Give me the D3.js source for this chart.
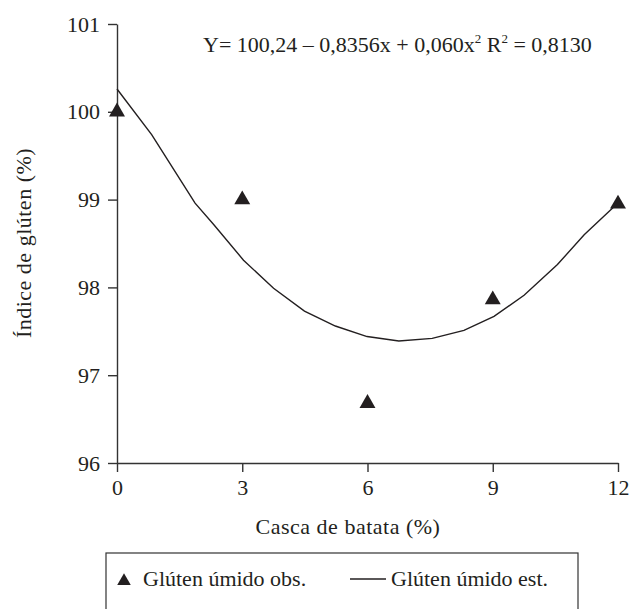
<!DOCTYPE html>
<html>
<head>
<meta charset="utf-8">
<script src="https://cdn.jsdelivr.net/npm/d3@7"></script>
</head>
<body style="margin:0">
<svg width="631" height="609">
  <text id="xtitle" x="348" y="534" font-family="Liberation Serif" font-size="22" fill="#231f20" text-anchor="middle" letter-spacing="0.5">Casca de batata (%)</text>
</svg>
<script>
// observed points
var obsX = [0, 3, 6, 9, 12];
var obsY = [100.0, 99.0, 96.68, 97.86, 98.95];

// estimated curve vertices
var estX = [0, 0.83, 1.87, 2.31, 3.03, 3.75, 4.49, 5.23, 5.99, 6.75, 7.55, 8.31, 9.03, 9.75, 10.55, 11.19, 12];
var estY = [100.26, 99.74, 98.96, 98.72, 98.31, 97.99, 97.73, 97.56, 97.44, 97.39, 97.42, 97.51, 97.67, 97.91, 98.26, 98.60, 98.96];

var xTicks = [0, 3, 6, 9, 12];
var yTicks = [96, 97, 98, 99, 100, 101];

var FONT = "Liberation Serif";
var INK = "#231f20";

var screen = {width: 631, height: 609};
var margins = {left: 117, top: 24};
var graph = {width: 501, height: 439};

var svg = d3.select("svg")
    .attr("width", screen.width)
    .attr("height", screen.height);

var xScale = d3.scaleLinear().domain([0, 12]).range([0, graph.width]);
var yScale = d3.scaleLinear().domain([96, 101]).range([graph.height, 0]);

var target = svg.append("g")
    .attr("transform", "translate(" + margins.left + "," + margins.top + ")");

// axes
var xAxis = d3.axisBottom(xScale).tickValues(xTicks).tickFormat(d3.format("d"))
    .tickSize(9).tickSizeOuter(0).tickPadding(7);
var yAxis = d3.axisLeft(yScale).tickValues(yTicks).tickFormat(d3.format("d"))
    .tickSize(9).tickSizeOuter(0).tickPadding(8);

var styleAxis = function(g)
{
    g.attr("font-family", FONT).attr("font-size", 22);
    g.select(".domain").attr("fill", "none").attr("stroke", "#333").attr("stroke-width", 1.4);
    g.selectAll(".tick line").attr("stroke", "#333").attr("stroke-width", 1.4);
    g.selectAll(".tick text")
        .attr("fill", INK)
        .attr("font-family", FONT)
        .attr("font-size", 22);
}

target.append("g")
    .attr("transform", "translate(0," + graph.height + ")")
    .call(xAxis)
    .call(styleAxis);

target.append("g")
    .call(yAxis)
    .call(styleAxis);

// estimated line
var lineGenerator = d3.line()
    .x(function(d, i) { return xScale(estX[i]); })
    .y(function(d) { return yScale(d); });

target.append("path")
    .datum(estY)
    .attr("d", lineGenerator)
    .attr("fill", "none")
    .attr("stroke", INK)
    .attr("stroke-width", 1.4);

// observed triangles
var tri = d3.symbol().type(d3.symbolTriangle).size(110);

target.selectAll(".obs")
    .data(obsY)
    .enter()
    .append("path")
    .classed("obs", true)
    .attr("d", tri)
    .attr("transform", function(d, i) {
        return "translate(" + xScale(obsX[i]) + "," + yScale(d) + ")";
    })
    .attr("fill", INK);

// helper for plain texts
var addText = function(parent, str, x, y)
{
    return parent.append("text")
        .text(str)
        .attr("x", x)
        .attr("y", y)
        .attr("font-family", FONT)
        .attr("font-size", 22)
        .attr("fill", INK);
}

// equation
var eq = svg.append("text")
    .attr("x", 203)
    .attr("y", 52)
    .attr("font-family", FONT)
    .attr("font-size", 22)
    .attr("fill", INK);
eq.append("tspan").text("Y= 100,24 – 0,8356x + 0,060x");
eq.append("tspan").text("2").attr("font-size", 13).attr("dy", -9);
eq.append("tspan").text("  R").attr("dy", 9);
eq.append("tspan").text("2").attr("font-size", 13).attr("dy", -9);
eq.append("tspan").text(" = 0,8130").attr("dy", 9);

// y axis title
addText(svg.append("g").attr("transform", "translate(31,243)"), "Índice de glúten (%)", 0, 0)
    .attr("text-anchor", "middle")
    .attr("letter-spacing", 0.5)
    .attr("transform", "rotate(-90)");

// legend
var legend = svg.append("g");
legend.append("rect")
    .attr("x", 106).attr("y", 553)
    .attr("width", 472).attr("height", 80)
    .attr("fill", "none")
    .attr("stroke", "#333")
    .attr("stroke-width", 1.2);

legend.append("path")
    .attr("d", d3.symbol().type(d3.symbolTriangle).size(80))
    .attr("transform", "translate(124,581)")
    .attr("fill", INK);
addText(legend, "Glúten úmido obs.", 143, 586);
legend.append("line")
    .attr("x1", 350).attr("x2", 386)
    .attr("y1", 579).attr("y2", 579)
    .attr("stroke", INK)
    .attr("stroke-width", 1.4);
addText(legend, "Glúten úmido est.", 391, 586);
</script>
</body>
</html>
